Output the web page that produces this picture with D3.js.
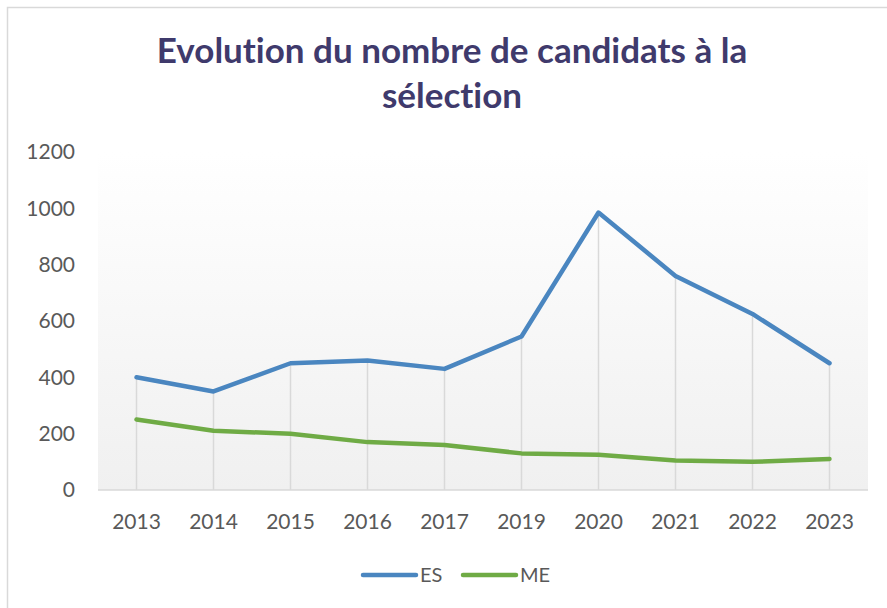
<!DOCTYPE html>
<html>
<head>
<meta charset="utf-8">
<script src="https://cdn.jsdelivr.net/npm/d3@7/dist/d3.min.js"></script>
<style>
  body { margin: 0; background: #fff; }
  text { font-family: Lato, "Open Sans", sans-serif; font-variant-ligatures: none; }
</style>
</head>
<body>
<div id="chart"></div>
<script>
// data
var years = ["2013", "2014", "2015", "2016", "2017", "2019", "2020", "2021", "2022", "2023"];
var es = [400, 350, 450, 460, 430, 545, 985, 760, 625, 450];
var me = [250, 210, 200, 170, 160, 130, 125, 105, 100, 110];
var yTicks = [0, 200, 400, 600, 800, 1000, 1200];
var titleLines = ["Evolution du nombre de candidats à la", "sélection"];

var width = 887, height = 608;
var margin = {left: 98, right: 19, top: 152, bottom: 118};

var svg = d3.select("#chart")
    .append("svg")
    .attr("width", width)
    .attr("height", height);

// chart border
svg.append("rect")
    .attr("x", 7.5).attr("y", 7.5)
    .attr("width", width + 20).attr("height", height + 20)
    .attr("fill", "#fff")
    .attr("stroke", "#d9d9d9")
    .attr("stroke-width", 1.5);

// background gradient of the plot area
var grad = svg.append("defs").append("linearGradient")
    .attr("id", "bg")
    .attr("x1", 0).attr("y1", 0).attr("x2", 0).attr("y2", 1);
grad.append("stop").attr("offset", "0%").attr("stop-color", "#ffffff");
grad.append("stop").attr("offset", "100%").attr("stop-color", "#f0f0f0");

var x = d3.scaleBand()
    .domain(years)
    .range([margin.left, width - margin.right]);

var y = d3.scaleLinear()
    .domain([0, 1200])
    .range([height - margin.bottom, margin.top]);

svg.append("rect")
    .attr("x", margin.left)
    .attr("y", margin.top)
    .attr("width", width - margin.right - margin.left)
    .attr("height", y(0) - margin.top)
    .attr("fill", "url(#bg)");

// drop lines from the highest point to the axis
svg.selectAll(".drop")
    .data(years)
    .enter()
    .append("line")
    .attr("class", "drop")
    .attr("x1", function (d) { return x(d) + x.bandwidth() / 2; })
    .attr("x2", function (d) { return x(d) + x.bandwidth() / 2; })
    .attr("y1", function (d, i) { return y(Math.max(es[i], me[i])); })
    .attr("y2", y(0))
    .attr("stroke", "#d9d9d9")
    .attr("stroke-width", 1.5);

// axis line
svg.append("line")
    .attr("x1", margin.left).attr("x2", width - margin.right)
    .attr("y1", y(0)).attr("y2", y(0))
    .attr("stroke", "#d9d9d9")
    .attr("stroke-width", 1.5);

// y labels
var yAxis = svg.append("g")
    .attr("transform", "translate(" + (margin.left - 23) + ",0)")
    .call(d3.axisLeft(y).tickValues(yTicks).tickFormat(d3.format("d")).tickSize(0).tickPadding(0));
yAxis.select(".domain").remove();
yAxis.selectAll("text")
    .attr("fill", "#595959")
    .style("font-size", "21px")
    .style("font-family", "Lato");

// x labels
var xAxis = svg.append("g")
    .attr("transform", "translate(0," + y(0) + ")")
    .call(d3.axisBottom(x).tickSize(0).tickPadding(24));
xAxis.select(".domain").remove();
xAxis.selectAll("text")
    .attr("fill", "#595959")
    .style("font-size", "21px")
    .style("font-family", "Lato");

var line = d3.line()
    .x(function (d, i) { return x(years[i]) + x.bandwidth() / 2; })
    .y(function (d) { return y(d); });

var series = [
    {name: "ES", values: es, color: "#4a86c0"},
    {name: "ME", values: me, color: "#6fab45"}
];

svg.selectAll(".series")
    .data(series)
    .enter()
    .append("path")
    .attr("class", "series")
    .attr("d", function (d) { return line(d.values); })
    .attr("fill", "none")
    .attr("stroke", function (d) { return d.color; })
    .attr("stroke-width", 4.5)
    .attr("stroke-linejoin", "round")
    .attr("stroke-linecap", "round");

// legend
var legend = svg.selectAll(".legend")
    .data(series)
    .enter()
    .append("g")
    .attr("class", "legend")
    .attr("transform", function (d, i) { return "translate(" + (363 + i * 100) + ",575)"; });

legend.append("line")
    .attr("x1", 0).attr("x2", 53)
    .attr("y1", 0).attr("y2", 0)
    .attr("stroke", function (d) { return d.color; })
    .attr("stroke-width", 4.5)
    .attr("stroke-linecap", "round");

legend.append("text")
    .attr("x", 57)
    .attr("y", 7)
    .attr("fill", "#595959")
    .style("font-size", "20px")
    .text(function (d) { return d.name; });

// title
svg.selectAll(".title")
    .data(titleLines)
    .enter()
    .append("text")
    .attr("class", "title")
    .attr("x", 452)
    .attr("y", function (d, i) { return 63 + i * 45; })
    .attr("text-anchor", "middle")
    .attr("fill", "#3f3a6c")
    .style("font-size", "35px")
    .style("font-weight", "bold")
    .text(function (d) { return d; });
</script>
</body>
</html>
